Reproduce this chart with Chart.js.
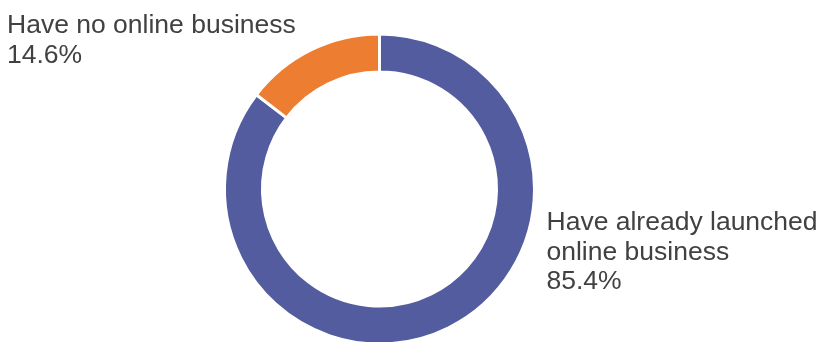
<!DOCTYPE html>
<html>
<head>
<meta charset="utf-8">
<script src="https://cdn.jsdelivr.net/npm/chart.js@4.4.1/dist/chart.umd.min.js"></script>
<style>
    html, body { margin: 0; padding: 0; background: #fff; overflow: hidden; }
    #wrap { width: 820px; height: 378px; }
</style>
</head>
<body>
<div id="wrap"><canvas id="onlineDonut" width="820" height="378"></canvas></div>
<script>
// Share of firms with an online business
const categories = ['Have already launched online business', 'Have no online business'];
const shares = [85.4, 14.6];
const sliceColors = ['#525c9e', '#ed7d31'];

// Label blocks: lines of text per slice (last line is the share)
const labelLines = [
    ['Have already launched', 'online business'],
    ['Have no online business']
];

// Draws the slice captions beside the ring
const sideLabels = {
    id: 'sideLabels',
    afterDraw(chart) {
        const ctx = chart.ctx;
        const arcs = chart.getDatasetMeta(0).data;
        ctx.save();
        ctx.font = '26.5px "Liberation Sans", Arial, sans-serif';
        ctx.fillStyle = '#414141';
        ctx.textAlign = 'left';
        ctx.textBaseline = 'alphabetic';
        const lineH = 29.5;

        // big slice: to the right of the ring
        const a0 = arcs[0];
        let x = a0.x + a0.outerRadius + 12;
        let y = a0.y + 41;
        labelLines[0].concat(shares[0].toFixed(1) + '%').forEach((t, i) => {
            ctx.fillText(t, x, y + i * lineH);
        });

        // small slice: top-left corner
        x = 7;
        y = 33;
        labelLines[1].concat(shares[1].toFixed(1) + '%').forEach((t, i) => {
            ctx.fillText(t, x, y + i * lineH);
        });
        ctx.restore();
    }
};

new Chart(document.getElementById('onlineDonut').getContext('2d'), {
    type: 'doughnut',
    data: {
        labels: categories,
        datasets: [{
            data: shares,
            backgroundColor: sliceColors,
            borderColor: '#ffffff',
            borderWidth: 3,
            hoverOffset: 0
        }]
    },
    options: {
        responsive: false,
        animation: false,
        cutout: '75.5%',
        layout: {
            padding: { left: 0, right: 61, top: 32.5, bottom: 32.5 }
        },
        plugins: {
            legend: { display: false },
            tooltip: { enabled: false }
        }
    },
    plugins: [sideLabels]
});
</script>
</body>
</html>
